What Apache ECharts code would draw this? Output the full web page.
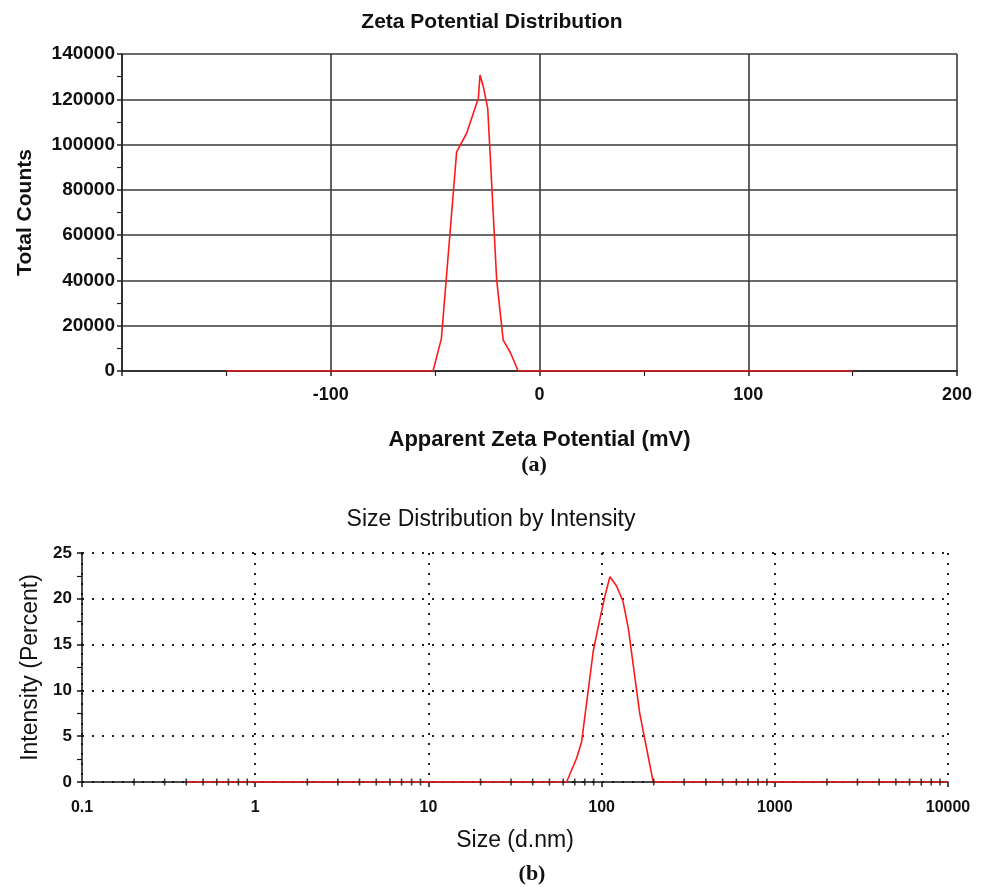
<!DOCTYPE html>
<html>
<head>
<meta charset="utf-8">
<script src="https://cdn.jsdelivr.net/npm/echarts@6/dist/echarts.min.js"></script>
<style>
html,body{margin:0;padding:0;background:#fff;}
#chart{width:986px;height:887px;}
</style>
</head>
<body>
<div id="chart"></div>
<script>
// Panel (a): Zeta potential distribution
const zetaPotential = [-150, -51, -47, -39.7, -34.9, -30.1, -29.3, -28.5, -26.9, -24.8, -20.5, -17.4, -14.1, -10.2, 150];
const zetaCounts = [0, 0, 14300, 96800, 105000, 118200, 120400, 130700, 125500, 116000, 40100, 13600, 8400, 0, 0];

// Panel (b): Size distribution by intensity
const sizeNm = [0.4, 62.8, 71.7, 76.7, 89.5, 97, 104.5, 111.7, 122, 133, 142.6, 166, 198.6, 10000];
const intensityPct = [0, 0, 2.6, 4.4, 14.3, 17.5, 20.3, 22.4, 21.4, 19.7, 16.8, 7.5, 0, 0];

// Minor tick positions on the log size axis
const sizeMinorTicks = [0.2,0.3,0.4,0.5,0.6,0.7,0.8,0.9, 2,3,4,5,6,7,8,9, 20,30,40,50,60,70,80,90,
  200,300,400,500,600,700,800,900, 2000,3000,4000,5000,6000,7000,8000,9000];

const FONT = 'Arial, "Liberation Sans", sans-serif';
const chart = echarts.init(document.getElementById('chart'), null, {renderer: 'canvas'});

const plain = v => String(+Number(v).toPrecision(6));

chart.setOption({
  animation: false,
  backgroundColor: '#fff',
  textStyle: {fontFamily: FONT},
  graphic: [
    {type: 'text', x: 492, y: 22, style: {text: 'Zeta Potential Distribution', fontFamily: FONT, fontSize: 21, fontWeight: 'bold', fill: '#111', align: 'center', verticalAlign: 'middle'}},
    {type: 'text', x: 534, y: 465, style: {text: '(a)', fontFamily: '"Liberation Serif", "Times New Roman", serif', fontSize: 22, fontWeight: 'bold', fill: '#111', align: 'center', verticalAlign: 'middle'}},
    {type: 'text', x: 491, y: 520, style: {text: 'Size Distribution by Intensity', fontFamily: FONT, fontSize: 23, fill: '#111', align: 'center', verticalAlign: 'middle'}},
    {type: 'text', x: 532, y: 874, style: {text: '(b)', fontFamily: '"Liberation Serif", "Times New Roman", serif', fontSize: 22, fontWeight: 'bold', fill: '#111', align: 'center', verticalAlign: 'middle'}}
  ],
  grid: [
    {left: 122, right: 29, top: 54, height: 317, containLabel: false},
    {left: 82, right: 38, top: 553, height: 229, containLabel: false}
  ],
  xAxis: [
    {
      gridIndex: 0, type: 'value', min: -200, max: 200, interval: 100,
      name: 'Apparent Zeta Potential (mV)', nameLocation: 'middle', nameGap: 58,
      nameTextStyle: {fontFamily: FONT, fontSize: 22, fontWeight: 'bold', color: '#111'},
      axisLine: {show: true, onZero: false, lineStyle: {color: '#222', width: 1.5}},
      axisTick: {show: true, length: 5, lineStyle: {color: '#222', width: 1.5}},
      minorTick: {show: true, splitNumber: 2, length: 5, lineStyle: {color: '#222', width: 1.2}},
      axisLabel: {fontFamily: FONT, fontSize: 18, fontWeight: 'bold', color: '#111', margin: 15, formatter: plain,
        showMinLabel: false},
      splitLine: {show: true, lineStyle: {color: '#3a3a3a', width: 1.6}}
    },
    {
      gridIndex: 1, type: 'log', logBase: 10, min: 0.1, max: 10000,
      name: 'Size (d.nm)', nameLocation: 'middle', nameGap: 47,
      nameTextStyle: {fontFamily: FONT, fontSize: 23, color: '#111'},
      axisLine: {show: true, onZero: false, lineStyle: {color: '#111', width: 1.5}},
      axisTick: {show: true, length: 5, lineStyle: {color: '#111', width: 1.5}},
      minorTick: {show: false},
      axisLabel: {fontFamily: FONT, fontSize: 16, fontWeight: 'bold', color: '#111', margin: 18, formatter: plain},
      splitLine: {show: true, lineStyle: {color: '#222', width: 2, type: [2, 8]}}
    }
  ],
  yAxis: [
    {
      gridIndex: 0, type: 'value', min: 0, max: 140000, interval: 20000,
      name: 'Total Counts', nameLocation: 'middle', nameGap: 86,
      nameTextStyle: {fontFamily: FONT, fontSize: 21, fontWeight: 'bold', color: '#111'},
      axisLine: {show: true, onZero: false, lineStyle: {color: '#222', width: 1.5}},
      axisTick: {show: true, length: 5, lineStyle: {color: '#222', width: 1.5}},
      minorTick: {show: true, splitNumber: 2, length: 5, lineStyle: {color: '#222', width: 1.2}},
      axisLabel: {fontFamily: FONT, fontSize: 19, fontWeight: 'bold', color: '#111', margin: 7, formatter: plain},
      splitLine: {show: true, lineStyle: {color: '#3a3a3a', width: 1.6}}
    },
    {
      gridIndex: 1, type: 'value', min: 0, max: 25, interval: 5,
      name: 'Intensity (Percent)', nameLocation: 'middle', nameGap: 40,
      nameTextStyle: {fontFamily: FONT, fontSize: 23, color: '#111'},
      axisLine: {show: true, onZero: false, lineStyle: {color: '#111', width: 1.5}},
      axisTick: {show: true, length: 5, lineStyle: {color: '#111', width: 1.5}},
      minorTick: {show: true, splitNumber: 2, length: 5, lineStyle: {color: '#111', width: 1.2}},
      axisLabel: {fontFamily: FONT, fontSize: 17, fontWeight: 'bold', color: '#111', margin: 10, formatter: plain},
      splitLine: {show: true, lineStyle: {color: '#222', width: 2, type: [2, 8]}}
    }
  ],
  series: [
    {
      type: 'line', xAxisIndex: 0, yAxisIndex: 0, silent: true,
      data: zetaPotential.map((x, i) => [x, zetaCounts[i]]),
      showSymbol: false, lineStyle: {color: '#ff1a1a', width: 1.6}, z: 5
    },
    {
      type: 'line', xAxisIndex: 1, yAxisIndex: 1, silent: true,
      data: sizeNm.map((x, i) => [x, intensityPct[i]]),
      showSymbol: false, lineStyle: {color: '#ff1a1a', width: 1.6}, z: 5
    },
    {
      type: 'scatter', xAxisIndex: 1, yAxisIndex: 1, silent: true,
      data: sizeMinorTicks.map(x => [x, 0]),
      symbol: 'rect', symbolSize: [1.6, 7], itemStyle: {color: '#111'}, z: 6
    }
  ]
});
</script>
</body>
</html>
